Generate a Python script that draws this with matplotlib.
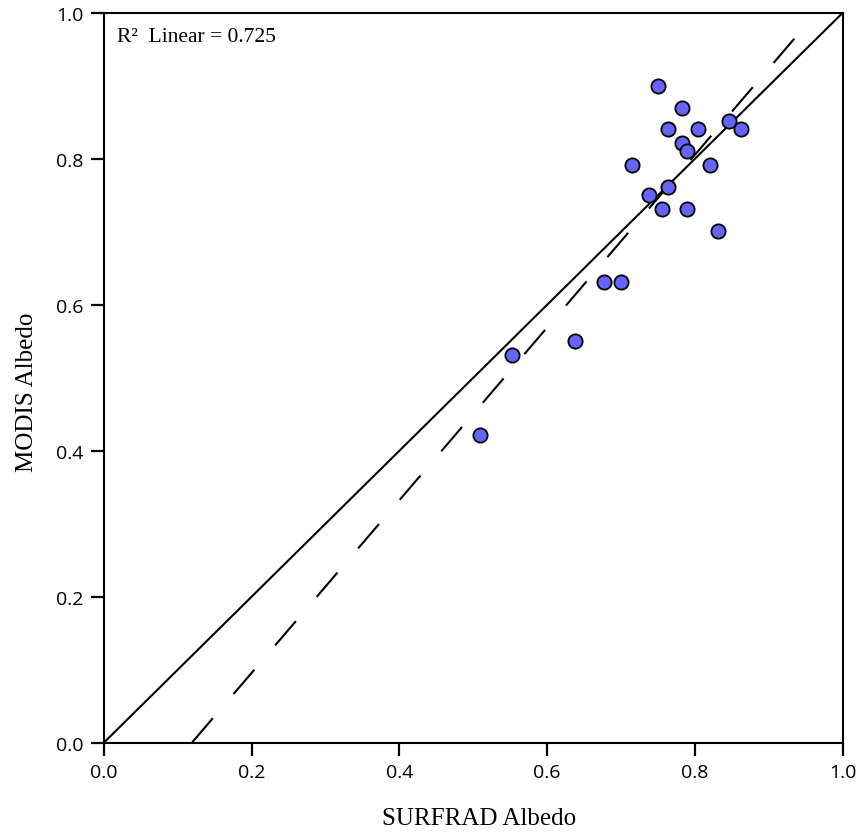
import numpy as np
import matplotlib
matplotlib.use("Agg")
import matplotlib.pyplot as plt

surfrad = [0.750, 0.783, 0.764, 0.804, 0.846, 0.862, 0.783, 0.789, 0.715, 0.821,
           0.764, 0.738, 0.756, 0.789, 0.832, 0.677, 0.700, 0.638, 0.552, 0.509]
modis = [0.900, 0.870, 0.841, 0.841, 0.852, 0.841, 0.822, 0.811, 0.791, 0.791,
         0.761, 0.751, 0.731, 0.731, 0.701, 0.631, 0.631, 0.551, 0.531, 0.421]
fit_slope = 1.183
fit_intercept = -0.141
fit_x_end = 0.938
r2_text = "R\u00b2  Linear = 0.725"
ticks = [0.0, 0.2, 0.4, 0.6, 0.8, 1.0]
tick_labels = ["0.0", "0.2", "0.4", "0.6", "0.8", "1.0"]

plt.rcParams['lines.scale_dashes'] = False

fig = plt.figure(figsize=(8.59, 8.37), dpi=100)
ax = fig.add_axes([0.1211, 0.1117, 0.8597, 0.8716])

# identity line
ax.plot([0, 1], [0, 1], color='black', lw=1.5, zorder=2)
# fit line
x0 = -fit_intercept / fit_slope
xs = np.array([x0, fit_x_end])
ax.plot(xs, fit_intercept + fit_slope * xs, color='black', lw=1.5,
        linestyle=(0, (23.0, 23.0)), dash_capstyle='butt', zorder=2)

ax.scatter(surfrad, modis, s=105, facecolor='#6464F8', edgecolor='black',
           linewidths=1.3, zorder=3)

ax.set_xlim(0, 1)
ax.set_ylim(0, 1)
ax.set_xticks(ticks)
ax.set_xticklabels(tick_labels)
ax.set_yticks(ticks)
ax.set_yticklabels(tick_labels)
for lab in ax.get_xticklabels() + ax.get_yticklabels():
    lab.set_fontfamily('Open Sans')
    lab.set_fontsize(14)
ax.tick_params(direction='out', length=9.5, width=1.6, pad=5.5, color='black')
for sp in ax.spines.values():
    sp.set_linewidth(1.5)

ax.set_xlabel("SURFRAD Albedo", fontfamily='Liberation Serif', fontsize=18)
ax.set_ylabel("MODIS Albedo", fontfamily='Liberation Serif', fontsize=18)
ax.xaxis.set_label_coords(0.508, -0.088)
ax.yaxis.set_label_coords(-0.089, 0.481)

ax.text(0.017, 0.962, r2_text, transform=ax.transAxes, fontfamily='Liberation Serif',
        fontsize=15.5, ha='left', va='baseline')

fig.savefig("out.png", dpi=100)
